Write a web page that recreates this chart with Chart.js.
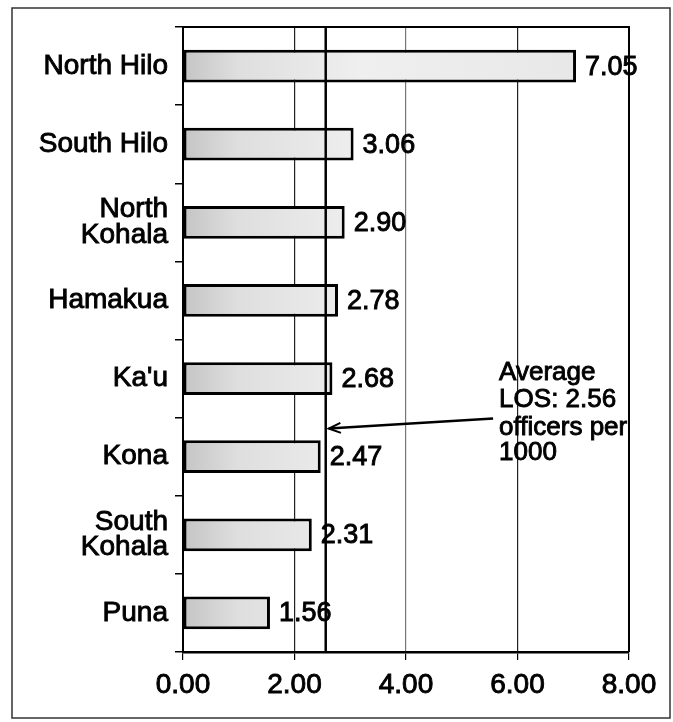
<!DOCTYPE html>
<html><head><meta charset="utf-8">
<script src="https://cdn.jsdelivr.net/npm/chart.js@4"></script>
<style>html,body{margin:0;padding:0;background:#fff}canvas{display:block}</style>
</head><body>
<canvas id="c" width="673" height="722"></canvas>
<script>
const categories = ['North Hilo', 'South Hilo', 'North\nKohala', 'Hamakua', "Ka'u", 'Kona', 'South\nKohala', 'Puna'];
const values = [7.05, 3.06, 2.90, 2.78, 2.68, 2.47, 2.31, 1.56];
const xTicks = [0, 2, 4, 6, 8];
const averageLOS = 2.56;
const annotationLines = ['Average', 'LOS: 2.56', 'officers per', '1000'];

const FONT = '"Liberation Sans", Arial, sans-serif';
const STROKE = 0.9;

function heavyText(c, t, x, y) {
  c.fillText(t, x, y);
  c.lineWidth = STROKE;
  c.strokeStyle = '#000';
  c.strokeText(t, x, y);
}

const framePlugin = {
  id: 'frame',
  beforeDraw(chart) {
    const c = chart.ctx;
    c.save();
    c.fillStyle = '#fff';
    c.fillRect(0, 0, chart.width, chart.height);
    c.strokeStyle = '#333';
    c.lineWidth = 1.5;
    c.strokeRect(12, 8, chart.width - 15, chart.height - 12);
    c.restore();
  },
  afterDraw(chart) {
    const c = chart.ctx, a = chart.chartArea;
    c.save();
    c.strokeStyle = '#000';
    c.lineWidth = 2;
    c.beginPath();
    c.moveTo(a.left, a.top); c.lineTo(a.right, a.top); c.lineTo(a.right, a.bottom);
    c.stroke();
    c.restore();
  }
};

const valueLabelPlugin = {
  id: 'valueLabels',
  afterDatasetsDraw(chart) {
    const c = chart.ctx;
    const meta = chart.getDatasetMeta(0);
    c.save();
    c.fillStyle = '#000';
    c.font = '27px ' + FONT;
    c.textBaseline = 'middle';
    c.textAlign = 'left';
    meta.data.forEach((bar, i) => {
      heavyText(c, values[i].toFixed(2), bar.x + 9, bar.y + 1);
    });
    c.restore();
  }
};

const averagePlugin = {
  id: 'average',
  afterDatasetsDraw(chart) {
    const c = chart.ctx, a = chart.chartArea;
    const xs = chart.scales.x, ys = chart.scales.y;
    const ax = xs.getPixelForValue(averageLOS);
    c.save();
    c.strokeStyle = '#000';
    c.lineWidth = 2.5;
    c.beginPath();
    c.moveTo(ax, a.top); c.lineTo(ax, a.bottom);
    c.stroke();
    const yRef = ys.getPixelForValue(4);
    const tx = xs.getPixelForValue(5.67);
    c.fillStyle = '#000';
    c.font = '26px ' + FONT;
    c.textBaseline = 'middle';
    c.textAlign = 'left';
    const offs = [-6, 21, 49, 74];
    annotationLines.forEach((t, i) => heavyText(c, t, tx, yRef + offs[i]));
    const x1 = tx - 6, y1 = yRef + 40;
    const x2 = ax + 3, y2 = yRef + 50;
    c.lineWidth = 2.5;
    c.beginPath(); c.moveTo(x1, y1); c.lineTo(x2, y2); c.stroke();
    const ang = Math.atan2(y2 - y1, x2 - x1);
    const L = 13, sp = 0.4;
    c.beginPath();
    c.moveTo(x2 - L * Math.cos(ang - sp), y2 - L * Math.sin(ang - sp));
    c.lineTo(x2, y2);
    c.lineTo(x2 - L * Math.cos(ang + sp), y2 - L * Math.sin(ang + sp));
    c.lineWidth = 2;
    c.stroke();
    c.restore();
  }
};

new Chart(document.getElementById('c'), {
  type: 'bar',
  data: {
    labels: categories.map(s => s.split('\n')),
    datasets: [{
      data: values,
      backgroundColor(ctx) {
        const a = ctx.chart.chartArea;
        if (!a) return '#e0e0e0';
        const g = ctx.chart.ctx.createLinearGradient(a.left, 0, a.right, 0);
        g.addColorStop(0, '#c4c4c4');
        g.addColorStop(0.12, '#dedede');
        g.addColorStop(0.4, '#efefef');
        g.addColorStop(1, '#e6e6e6');
        return g;
      },
      borderColor: '#000',
      borderWidth: 3,
      borderSkipped: false,
      barPercentage: 0.42,
      categoryPercentage: 1
    }]
  },
  options: {
    indexAxis: 'y',
    responsive: false,
    animation: false,
    devicePixelRatio: 1,
    layout: { padding: { top: 27, right: 44, left: 0, bottom: 0 } },
    plugins: { legend: { display: false }, tooltip: { enabled: false } },
    scales: {
      y: {
        type: 'category',
        afterFit(s) { s.width = 183; },
        ticks: { color: '#000', font: { family: FONT, size: 28, lineHeight: 0.9 }, padding: 7,
                 textStrokeColor: '#000', textStrokeWidth: STROKE },
        grid: { offset: true, drawOnChartArea: false, color: '#000', tickLength: 8, lineWidth: 1.5 },
        border: { display: true, color: '#000', width: 2 }
      },
      x: {
        min: 0, max: 8,
        afterBuildTicks(s) { s.ticks = xTicks.map(v => ({ value: v })); },
        afterFit(s) { s.height = 70; },
        ticks: { color: '#000', font: { family: FONT, size: 28 }, padding: 8,
                 textStrokeColor: '#000', textStrokeWidth: STROKE,
                 callback: v => Number(v).toFixed(2) },
        grid: {
          color: ctx => (ctx.tick && ctx.tick.value === 4 ? '#777' : '#222'),
          lineWidth: 1.2,
          tickLength: 8,
          tickColor: '#000'
        },
        border: { display: true, color: '#000', width: 2.5 }
      }
    }
  },
  plugins: [framePlugin, valueLabelPlugin, averagePlugin]
});
</script>
</body></html>
